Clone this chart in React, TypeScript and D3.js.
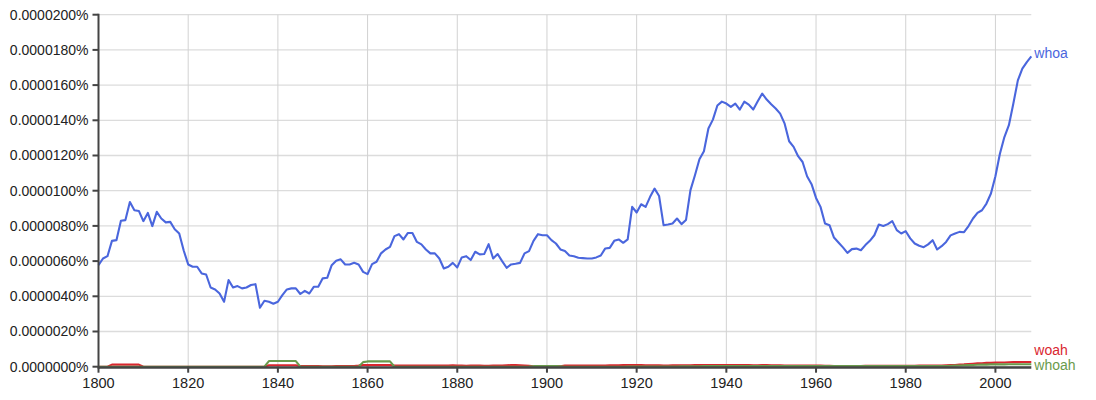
import React from "react";
import * as d3 from "d3";

// Values in units of 0.0000001 %
const years: number[] = d3.range(1800, 2009);

const whoa: number[] = [
  57.7, 61.5, 62.8, 71.5, 71.9, 82.9, 83.3, 93.6, 88.9, 88.5,
  82.7, 87.4, 79.9, 88.0, 84.2, 82.0, 82.3, 78.1, 75.7, 66.0,
  58.1, 56.8, 56.8, 53.0, 52.4, 45.0, 43.9, 41.6, 36.9, 49.2,
  45.0, 45.8, 44.5, 45.0, 46.4, 46.9, 33.5, 37.5, 36.9, 35.8,
  36.9, 40.7, 43.9, 44.5, 44.5, 41.3, 43.1, 41.6, 45.4, 45.4,
  50.2, 50.5, 57.7, 60.2, 61.0, 58.1, 58.1, 59.0, 58.1, 53.9,
  52.6, 58.3, 59.6, 64.4, 66.6, 68.1, 74.2, 75.3, 72.3, 76.0,
  76.0, 70.9, 69.5, 66.6, 64.4, 64.4, 61.5, 55.8, 56.8, 59.0,
  56.4, 62.1, 62.8, 60.6, 65.3, 63.8, 64.0, 69.6, 61.5, 64.0,
  60.0, 56.2, 58.1, 58.5, 59.0, 64.4, 65.7, 71.5, 75.3, 74.7,
  74.7, 71.9, 70.0, 66.6, 65.7, 63.2, 62.8, 61.9, 61.7, 61.5,
  61.5, 62.1, 63.2, 67.2, 67.5, 71.5, 72.3, 70.4, 72.3, 90.8,
  87.6, 92.3, 90.8, 96.5, 101.2, 97.0, 80.4, 80.8, 81.4, 84.2,
  81.0, 83.3, 100.3, 108.8, 117.9, 122.4, 135.3, 140.4, 148.4, 150.6,
  149.5, 147.6, 149.5, 146.1, 150.6, 148.9, 146.1, 150.8, 155.2, 151.8,
  149.1, 146.7, 143.8, 138.1, 128.1, 124.9, 119.6, 116.3, 108.2, 103.7,
  95.9, 90.8, 81.4, 80.4, 73.4, 70.6, 67.8, 64.7, 66.8, 67.1,
  66.2, 69.1, 71.5, 74.7, 80.8, 80.0, 81.0, 82.7, 77.6, 75.7,
  77.0, 72.9, 70.0, 68.7, 67.9, 69.5, 71.9, 66.6, 68.5, 70.9,
  74.6, 75.7, 76.6, 76.4, 79.9, 84.2, 87.4, 88.9, 92.7, 98.4,
  108.2, 121.0, 130.5, 137.2, 149.5, 162.7, 169.4, 173.1, 176.3,
];

const woah: number[] = [
  0.0, 0.0, 0.0, 1.2, 1.2, 1.2, 1.2, 1.2, 1.2, 1.2,
  0.0, 0.0, 0.0, 0.0, 0.0, 0.0, 0.0, 0.0, 0.0, 0.0,
  0.0, 0.0, 0.0, 0.0, 0.0, 0.0, 0.0, 0.0, 0.0, 0.0,
  0.0, 0.0, 0.0, 0.0, 0.0, 0.0, 0.0, 0.0, 0.8, 0.8,
  0.8, 0.8, 0.8, 0.8, 0.8, 0.3, 0.4, 0.4, 0.4, 0.3,
  0.2, 0.2, 0.2, 0.3, 0.3, 0.4, 0.4, 0.4, 0.6, 1.0,
  1.0, 1.0, 1.0, 1.0, 1.0, 1.0, 0.6, 0.6, 0.7, 0.6,
  0.6, 0.6, 0.7, 0.7, 0.6, 0.6, 0.6, 0.7, 0.7, 0.8,
  0.7, 0.6, 0.5, 0.6, 0.6, 0.6, 0.5, 0.5, 0.6, 0.6,
  0.6, 0.8, 0.9, 0.9, 0.8, 0.7, 0.5, 0.2, 0.1, 0.1,
  0.1, 0.1, 0.2, 0.3, 0.6, 0.7, 0.7, 0.6, 0.6, 0.6,
  0.7, 0.6, 0.6, 0.7, 0.8, 0.8, 0.8, 0.9, 1.0, 1.0,
  1.0, 0.9, 0.8, 0.8, 0.8, 0.8, 0.7, 0.7, 0.8, 0.8,
  0.8, 0.8, 0.8, 0.9, 0.9, 1.0, 1.0, 1.0, 1.0, 1.0,
  1.0, 0.9, 0.9, 0.9, 0.9, 0.9, 0.8, 0.8, 0.9, 0.9,
  0.8, 0.8, 0.8, 0.7, 0.7, 0.7, 0.6, 0.6, 0.6, 0.6,
  0.6, 0.6, 0.5, 0.5, 0.4, 0.4, 0.4, 0.4, 0.4, 0.4,
  0.4, 0.5, 0.5, 0.5, 0.5, 0.5, 0.5, 0.5, 0.5, 0.5,
  0.5, 0.5, 0.5, 0.6, 0.6, 0.6, 0.6, 0.6, 0.7, 0.8,
  0.9, 1.0, 1.2, 1.3, 1.5, 1.7, 1.9, 2.0, 2.2, 2.2,
  2.3, 2.4, 2.4, 2.5, 2.6, 2.6, 2.7, 2.7, 2.7,
];

const whoah: number[] = [
  0, 0, 0, 0, 0, 0, 0, 0, 0, 0,
  0, 0, 0, 0, 0, 0, 0, 0, 0, 0,
  0, 0, 0, 0, 0, 0, 0, 0, 0, 0,
  0, 0, 0, 0, 0, 0, 0, 0, 3.2, 3.2,
  3.2, 3.2, 3.2, 3.2, 3.2, 0, 0, 0, 0, 0,
  0, 0, 0, 0, 0, 0, 0, 0, 0, 2.6,
  3.0, 3.0, 3.0, 3.0, 3.0, 3.0, 0, 0, 0, 0,
  0, 0, 0, 0, 0, 0, 0, 0, 0, 0,
  0, 0, 0, 0, 0, 0, 0, 0, 0, 0,
  0, 0, 0, 0, 0, 0, 0.1, 0.3, 0.3, 0.3,
  0.3, 0.3, 0.3, 0.2, 0, 0, 0, 0, 0, 0,
  0, 0, 0, 0, 0, 0, 0, 0, 0.1, 0.1,
  0.1, 0.1, 0.1, 0.1, 0.1, 0.1, 0.1, 0.1, 0.1, 0.1,
  0.2, 0.2, 0.2, 0.2, 0.2, 0.3, 0.3, 0.3, 0.3, 0.3,
  0.3, 0.3, 0.3, 0.3, 0.3, 0.3, 0.3, 0.3, 0.3, 0.3,
  0.3, 0.3, 0.3, 0.3, 0.3, 0.3, 0.3, 0.3, 0.3, 0.3,
  0.3, 0.3, 0.3, 0.3, 0.3, 0.3, 0.3, 0.3, 0.3, 0.3,
  0.3, 0.3, 0.3, 0.3, 0.3, 0.3, 0.3, 0.3, 0.3, 0.3,
  0.3, 0.3, 0.3, 0.3, 0.3, 0.3, 0.3, 0.3, 0.4, 0.4,
  0.5, 0.6, 0.7, 0.8, 0.9, 1.0, 1.1, 1.2, 1.2, 1.3,
  1.3, 1.3, 1.3, 1.4, 1.4, 1.4, 1.4, 1.4, 1.4,
];

const seriesNames = ["whoa", "woah", "whoah"];
const seriesColors = ["#4a66dd", "#d9262f", "#6a9a4c"];
const seriesValues = [whoa, woah, whoah];

const yTicks: number[] = [0, 20, 40, 60, 80, 100, 120, 140, 160, 180, 200];
const yTickLabels: string[] = [
  "0.0000000%", "0.0000020%", "0.0000040%", "0.0000060%", "0.0000080%",
  "0.0000100%", "0.0000120%", "0.0000140%", "0.0000160%", "0.0000180%",
  "0.0000200%",
];
const xTicks: number[] = [1800, 1820, 1840, 1860, 1880, 1900, 1920, 1940, 1960, 1980, 2000];

const W = 1096;
const H = 400;
const margin = { left: 98.5, right: 64.7, top: 14.7, bottom: 33.3 };
const FONT = "'Liberation Sans', Arial, Helvetica, sans-serif";

export default function App() {
  const x = d3
    .scaleLinear()
    .domain([1800, 2008])
    .range([margin.left, W - margin.right]);
  const y = d3
    .scaleLinear()
    .domain([0, 200])
    .range([H - margin.bottom, margin.top]);

  const line = d3
    .line<number>()
    .x((_, i) => x(years[i]))
    .y((v) => y(v));

  // label placement with collision avoidance
  const gap = 14.3;
  const maxY = y(0) - 2;
  const labels = seriesNames.map((name, i) => ({
    name,
    color: seriesColors[i],
    y: y(seriesValues[i][seriesValues[i].length - 1]) - 3,
  }));
  const sorted = [...labels].sort((a, b) => a.y - b.y);
  for (let iter = 0; iter < 50; iter++) {
    for (let k = 1; k < sorted.length; k++) {
      const d = sorted[k].y - sorted[k - 1].y;
      if (d < gap) {
        const push = (gap - d) / 2;
        sorted[k].y += push;
        sorted[k - 1].y -= push;
      }
    }
    for (let k = sorted.length - 1; k >= 0; k--) {
      if (sorted[k].y > maxY) sorted[k].y = maxY;
      if (k < sorted.length - 1 && sorted[k].y > sorted[k + 1].y - gap)
        sorted[k].y = sorted[k + 1].y - gap;
    }
  }

  const x0 = margin.left;
  const x1 = W - margin.right;
  const y0 = y(0);
  const yTop = y(200);

  return (
    <div style={{ position: "fixed", left: 0, top: 0 }}>
      <svg width={W} height={H} style={{ display: "block", background: "#fff" }}>
        {/* horizontal gridlines */}
        {yTicks.map((t) => (
          <line
            key={"hg" + t}
            x1={x0}
            x2={x1}
            y1={y(t)}
            y2={y(t)}
            stroke="#dcdcdc"
            strokeWidth={1.3}
          />
        ))}
        {/* vertical gridlines */}
        {xTicks.map((t) => (
          <line
            key={"vg" + t}
            x1={x(t)}
            x2={x(t)}
            y1={yTop}
            y2={y0}
            stroke="#d2d2d2"
            strokeWidth={1}
          />
        ))}

        {/* series */}
        {seriesValues.map((vals, i) => (
          <path
            key={seriesNames[i]}
            d={line(vals) || ""}
            fill="none"
            stroke={seriesColors[i]}
            strokeWidth={2.1}
            strokeLinejoin="round"
          />
        ))}

        {/* x axis */}
        <line x1={x0} x2={x1} y1={y0 + 0.8} y2={y0 + 0.8} stroke="#444" strokeWidth={2.5} />
        {xTicks.map((t) => (
          <g key={"xt" + t}>
            <line x1={x(t)} x2={x(t)} y1={y0} y2={y0 + 6} stroke="#444" strokeWidth={2} />
            <text
              x={x(t)}
              y={y0 + 21}
              textAnchor="middle"
              fontFamily={FONT}
              fontSize={14.5}
              fill="#222"
            >
              {t}
            </text>
          </g>
        ))}

        {/* y axis */}
        <line x1={x0} x2={x0} y1={yTop - 1} y2={y0 + 2} stroke="#444" strokeWidth={2} />
        {yTicks.map((t, i) => (
          <g key={"yt" + t}>
            <line x1={x0 - 6} x2={x0} y1={y(t)} y2={y(t)} stroke="#444" strokeWidth={2} />
            <text
              x={x0 - 10}
              y={y(t)}
              dy="0.35em"
              textAnchor="end"
              fontFamily={FONT}
              fontSize={14}
              fill="#222"
            >
              {yTickLabels[i]}
            </text>
          </g>
        ))}

        {/* labels */}
        {labels.map((l) => (
          <text
            key={"lab" + l.name}
            x={x1 + 3}
            y={l.y}
            dy="0.35em"
            fontFamily={FONT}
            fontSize={14}
            fill={l.color}
          >
            {l.name}
          </text>
        ))}
      </svg>
    </div>
  );
}
